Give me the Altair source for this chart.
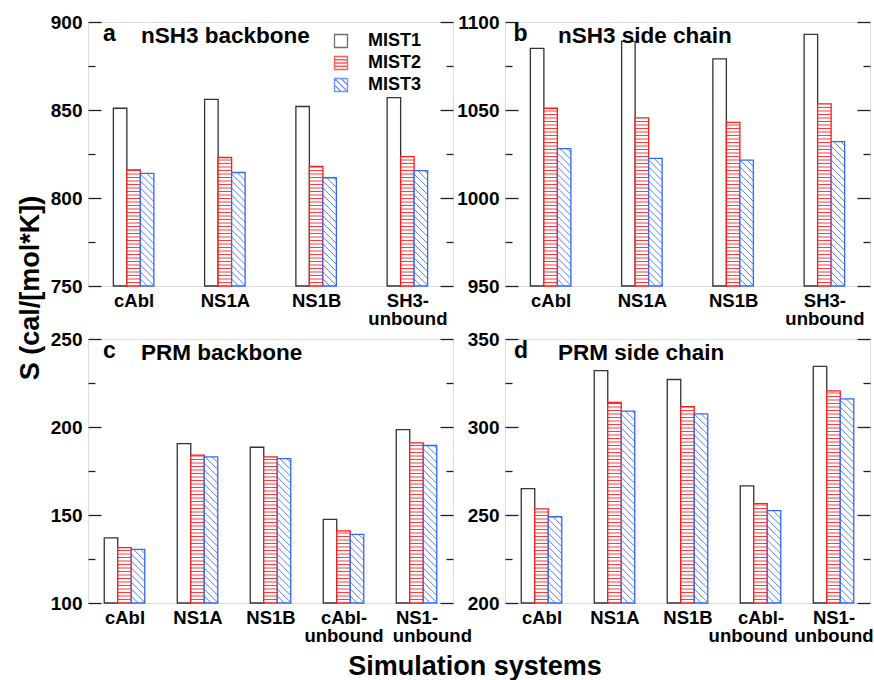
import json
import pandas as pd
import altair as alt

# ---------------- data ----------------
series = ["MIST1", "MIST2", "MIST3"]
top_categories = [["cAbl"], ["NS1A"], ["NS1B"], ["SH3-", "unbound"]]
bottom_categories = [["cAbl"], ["NS1A"], ["NS1B"], ["cAbl-", "unbound"], ["NS1-", "unbound"]]

a_mist1 = [851, 856, 852, 857]
a_mist2 = [816, 823, 818, 823.5]
a_mist3 = [814, 814.5, 811.5, 815.5]

b_mist1 = [1085, 1089, 1079, 1093]
b_mist2 = [1051, 1045.5, 1043, 1053.5]
b_mist3 = [1028, 1022.5, 1021.5, 1032]

c_mist1 = [137, 190.5, 188.5, 147.5, 198.5]
c_mist2 = [131.5, 184, 183, 141, 191]
c_mist3 = [130.5, 183, 182, 139, 189.5]

d_mist1 = [265, 332, 327, 266.5, 334.5]
d_mist2 = [253.5, 314, 311.5, 256.5, 320.5]
d_mist3 = [249, 309, 307.5, 252.5, 316]

panel_letters = ["a", "b", "c", "d"]
panel_names = ["nSH3 backbone", "nSH3 side chain", "PRM backbone", "PRM side chain"]
y_ranges = [(750, 900), (950, 1100), (100, 250), (200, 350)]
y_title = "S (cal/[mol*K])"
x_title = "Simulation systems"

# ---------------- style ----------------
FONT = "Liberation Sans"
W, H = 365, 264
BAR_PX = 13.5
H_STEP_PX = 3.5
D_STEP_PX = 7.0
C1, C2, C3 = "#333333", "#ff1a1a", "#3366ff"
FRAME = "#222222"
NBSP = "\u00a0"
ZWSP = "\u200b"
LEGEND_PATHS = [
    "M-1,-1H1V1H-1Z",
    "M-1,-1H1V1H-1Z M-1,-0.5H1 M-1,0H1 M-1,0.5H1",
    "M-1,-1H1V1H-1Z M-1,-1L1,1 M-1,0L0,1 M0,-1L1,0",
]
# nudges of the second label line (in non-breaking spaces: + right, - left), as in the original
LINE2_NUDGE = {"c": {4: 6}, "d": {3: -5}}


def label_lines(cats, nudges):
    out = []
    for i, lines in enumerate(cats):
        lines = list(lines)
        k = nudges.get(i, 0)
        if len(lines) > 1 and k:
            if k > 0:
                lines[1] = ZWSP + NBSP * k + lines[1]
            else:
                lines[1] = lines[1] + NBSP * (-k) + ZWSP
        out.append(lines)
    return out


def panel(cats, vals, yr, letter, name, letter_dx, legend=False, ytitle=False, xtitle=False):
    n = len(cats)
    ymin, ymax = yr
    ux = n / W
    uy = (ymax - ymin) / H
    bw = BAR_PX * ux

    per_series = []
    for j, s in enumerate(series):
        rows = []
        for i in range(n):
            x0 = i + 0.5 + (j - 1.5) * bw
            rows.append(dict(series=s, x0=x0, x1=x0 + bw, ybase=ymin, value=vals[j][i]))
        per_series.append(pd.DataFrame(rows))

    hrows = []
    for r in per_series[1].itertuples():
        hpx = (r.value - ymin) / uy
        k = 1
        while k * H_STEP_PX < hpx - 0.5:
            hrows.append(dict(x0=r.x0, x1=r.x1, y=ymin + k * H_STEP_PX * uy))
            k += 1
    hdf = pd.DataFrame(hrows)

    drows = []
    for r in per_series[2].itertuples():
        hpx = (r.value - ymin) / uy
        k = 1
        while k * D_STEP_PX < BAR_PX + hpx:
            cc = k * D_STEP_PX
            u0 = max(0.0, cc - hpx)
            u1 = min(BAR_PX, cc)
            if u1 - u0 > 0.3:
                drows.append(dict(xa=r.x0 + u0 * ux, ya=ymin + (cc - u0) * uy,
                                  xb=r.x0 + u1 * ux, yb=ymin + (cc - u1) * uy))
            k += 1
    ddf = pd.DataFrame(drows)

    xs = alt.Scale(domain=[0, n], nice=False, zero=False)
    ys = alt.Scale(domain=[ymin, ymax], nice=False, zero=False)
    majors = list(range(ymin, ymax + 1, 50))
    minors = list(range(ymin + 25, ymax, 50))

    labels = label_lines(cats, LINE2_NUDGE.get(letter, {}))
    xkw = dict(values=[i + 0.5 for i in range(n)],
               labelExpr=json.dumps(labels, ensure_ascii=False) + "[floor(datum.value)]",
               ticks=False, domain=False, grid=False,
               labelFont=FONT, labelFontSize=18.5, labelFontWeight="bold",
               labelColor="black", labelPadding=5, labelLineHeight=18.5,
               labelOverlap=False, labelFlush=False, labelBound=False)
    if xtitle:
        x_axis = alt.Axis(title=x_title, titleX=386.5, titleY=71, titleAlign="center",
                          titleBaseline="alphabetic", titleFont=FONT, titleFontSize=27,
                          titleFontWeight="bold", titleColor="black", **xkw)
    else:
        x_axis = alt.Axis(title=None, **xkw)

    tick_kw = dict(grid=False, domain=False, labels=False, tickColor=FRAME, tickWidth=1.3, title=None)
    ykw = dict(orient="left", values=majors, offset=-13, tickSize=13, grid=False, domain=False,
               tickColor=FRAME, tickWidth=1.3, labelFont=FONT, labelFontSize=19, format="d",
               labelFontWeight="bold", labelColor="black", labelPadding=6)
    if ytitle:
        left_major = alt.Axis(title=y_title, titleX=-62.5, titleY=265.5, titleAngle=270,
                              titleAlign="center", titleBaseline="alphabetic", titleFont=FONT,
                              titleFontSize=27, titleFontWeight="bold", titleColor="black", **ykw)
    else:
        left_major = alt.Axis(title=None, **ykw)
    left_minor = alt.Axis(orient="left", values=minors, offset=-7, tickSize=7, **tick_kw)
    right_major = alt.Axis(orient="right", values=majors, offset=-13, tickSize=13, **tick_kw)
    right_minor = alt.Axis(orient="right", values=minors, offset=-7, tickSize=7, **tick_kw)
    y_axes = [left_major, left_minor, right_major]
    colors = [C1, C2, C3]

    layers = []
    for j in range(3):
        layers.append(
            alt.Chart(per_series[j]).mark_rect(fill="white", stroke=colors[j], strokeWidth=1.3).encode(
                x=alt.X("x0:Q", scale=xs, axis=x_axis if j == 0 else None),
                x2="x1:Q",
                y=alt.Y("ybase:Q", scale=ys, axis=y_axes[j]),
                y2="value:Q",
            )
        )
    layers.append(
        alt.Chart(hdf).mark_rule(color=C2, strokeWidth=1, opacity=0.85).encode(
            x=alt.X("x0:Q", scale=xs, axis=None),
            x2="x1:Q",
            y=alt.Y("y:Q", scale=ys, axis=right_minor),
        )
    )
    layers.append(
        alt.Chart(ddf).mark_rule(color=C3, strokeWidth=1, opacity=0.85).encode(
            x=alt.X("xa:Q", scale=xs, axis=None),
            x2="xb:Q",
            y=alt.Y("ya:Q", scale=ys, axis=None),
            y2="yb:Q",
        )
    )
    tdf = pd.DataFrame({"letter": [letter], "name": [name]})
    layers.append(
        alt.Chart(tdf).mark_text(align="left", baseline="alphabetic", font=FONT, fontSize=23,
                                 fontWeight="bold", color="black").encode(
            x=alt.value(letter_dx), y=alt.value(18.5), text="letter:N")
    )
    layers.append(
        alt.Chart(tdf).mark_text(align="left", baseline="alphabetic", font=FONT, fontSize=22.5,
                                 fontWeight="bold", color="black").encode(
            x=alt.value(53), y=alt.value(20.5), text="name:N")
    )
    if legend:
        leg = alt.Legend(orient="none", legendX=244, legendY=10, title=None, padding=0,
                         labelFont=FONT, labelFontSize=18, labelFontWeight="bold",
                         labelColor="black", labelOffset=18, rowPadding=2, symbolSize=169,
                         symbolStrokeWidth=1.3, symbolFillColor="white", direction="vertical")
        layers.append(
            alt.Chart(pd.DataFrame({"series": series})).mark_point(
                clip=True, filled=False, fill="white", strokeWidth=1.3, size=169).encode(
                x=alt.value(-500), y=alt.value(-500),
                shape=alt.Shape("series:N", scale=alt.Scale(domain=series, range=LEGEND_PATHS), legend=leg),
                stroke=alt.Stroke("series:N", scale=alt.Scale(domain=series, range=colors), legend=leg),
            )
        )
    return alt.layer(*layers).properties(width=W, height=H).resolve_axis(x="independent", y="independent")


pa = panel(top_categories, [a_mist1, a_mist2, a_mist3], y_ranges[0], panel_letters[0], panel_names[0], 15,
           legend=True, ytitle=True)
pb = panel(top_categories, [b_mist1, b_mist2, b_mist3], y_ranges[1], panel_letters[1], panel_names[1], 8.5)
pc = panel(bottom_categories, [c_mist1, c_mist2, c_mist3], y_ranges[2], panel_letters[2], panel_names[2], 15,
           xtitle=True)
pd_ = panel(bottom_categories, [d_mist1, d_mist2, d_mist3], y_ranges[3], panel_letters[3], panel_names[3], 9)

chart = alt.concat(pa, pb, pc, pd_, columns=2, spacing=alt.RowColnumber(row=53, column=52),
                   bounds="flush").resolve_scale(
    shape="independent", stroke="independent"
).properties(
    padding={"left": 16, "top": 12, "right": 0, "bottom": 0}
).configure_view(stroke=FRAME, strokeWidth=1.5).configure(background="white")

chart.save("out.html", embed_options={"renderer": "svg", "actions": False})
